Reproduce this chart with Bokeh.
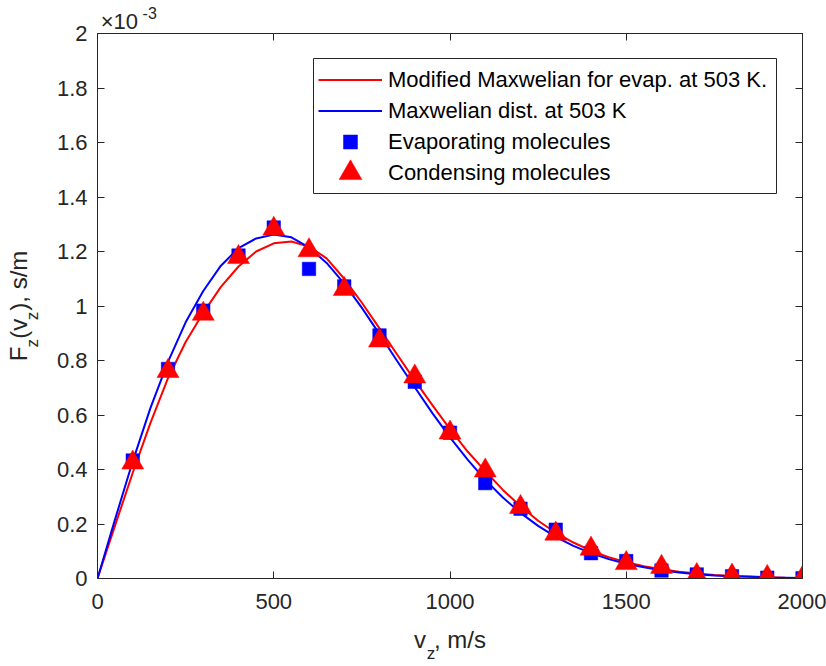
from bokeh.plotting import figure
from bokeh.models import Range1d, LinearAxis, FixedTicker, Legend, LegendItem, BoxAnnotation
from bokeh.embed import file_html
from bokeh.resources import INLINE

# ---------------- data ----------------
v_curve = [0, 50, 100, 150, 200, 250, 300, 350, 400, 450, 500, 550, 600, 650, 700,
           750, 800, 850, 900, 950, 1000, 1050, 1100, 1150, 1200, 1250, 1300, 1350,
           1400, 1450, 1500, 1550, 1600, 1650, 1700, 1750, 1800, 1850, 1900, 1950, 2000]

# Modified Maxwellian for evaporation at 503 K (x 10^-3 s/m)
f_modified = [0.000, 0.195, 0.388, 0.570, 0.735, 0.868, 0.975, 1.070, 1.145, 1.200,
              1.230, 1.237, 1.218, 1.175, 1.100, 1.012, 0.918, 0.822, 0.727, 0.636,
              0.548, 0.466, 0.394, 0.325, 0.265, 0.212, 0.168, 0.132, 0.102, 0.078,
              0.060, 0.045, 0.034, 0.025, 0.018, 0.013, 0.009, 0.007, 0.005, 0.003, 0.002]

# Maxwellian distribution at 503 K (x 10^-3 s/m)
f_maxwell = [0.000, 0.218, 0.430, 0.625, 0.795, 0.940, 1.055, 1.148, 1.212, 1.248,
             1.262, 1.252, 1.215, 1.158, 1.082, 0.993, 0.897, 0.798, 0.702, 0.607,
             0.518, 0.436, 0.362, 0.297, 0.241, 0.193, 0.153, 0.120, 0.093, 0.071,
             0.054, 0.041, 0.030, 0.022, 0.016, 0.011, 0.008, 0.006, 0.004, 0.003, 0.002]

v_mol = [100, 200, 300, 400, 500, 600, 700, 800, 900, 1000,
         1100, 1200, 1300, 1400, 1500, 1600, 1700, 1800, 1900, 2000]
f_evap = [0.433, 0.769, 0.983, 1.185, 1.288, 1.136, 1.072, 0.892, 0.722, 0.535,
          0.350, 0.256, 0.179, 0.093, 0.064, 0.029, 0.015, 0.008, 0.003, 0.001]
f_cond = [0.425, 0.761, 0.971, 1.179, 1.283, 1.204, 1.062, 0.873, 0.741, 0.535,
          0.396, 0.262, 0.164, 0.109, 0.056, 0.042, 0.012, 0.010, 0.005, 0.002]

x_ticks = [0, 500, 1000, 1500, 2000]
y_ticks = [0, 0.2, 0.4, 0.6, 0.8, 1, 1.2, 1.4, 1.6, 1.8, 2]
y_tick_labels = ["0", "0.2", "0.4", "0.6", "0.8", "1", "1.2", "1.4", "1.6", "1.8", "2"]

legend_labels = ["Modified Maxwelian for evap. at 503 K.", "Maxwelian dist. at 503 K",
                 "Evaporating molecules", "Condensing molecules"]

# exponent note "x10^-3" above the top-left corner (anchors in m/s along the top axis)
exp_base_text, exp_base_anchor = "\u00d710", 62
exp_power_text, exp_power_anchor = "-3", 148

# axis labels: main text with a gap where each subscript "z" goes,
# the subscripts are drawn as a second label lined up with the gaps
GAP = "\u2004"
NB = "\u00a0"
x_label_main = "v" + GAP + ", m/s"
x_label_sub = "z" + NB * 8
y_label_main = "F" + GAP + "(v" + GAP + "), s/m"
y_label_sub = "z" + NB * 4 + "z" + NB * 10

# ---------------- styling ----------------
AX = "#262626"
FONT = "Liberation Sans"
TICK_FS = "22px"
LABEL_FS = "24px"
SUB_FS = "17px"

p = figure(width=826, height=666, output_backend="svg", toolbar_location=None,
           x_range=Range1d(0, 2000), y_range=Range1d(0, 2),
           min_border_left=97, min_border_right=24, min_border_top=33, min_border_bottom=88)
p.outline_line_color = None
p.xgrid.visible = False
p.ygrid.visible = False
p.background_fill_color = "white"
p.border_fill_color = "white"


def style_axis(ax, standoff=10):
    ax.axis_line_color = AX
    ax.axis_line_width = 1
    ax.major_tick_line_color = AX
    ax.major_tick_in = 7
    ax.major_tick_out = 0
    ax.minor_tick_line_color = None
    ax.major_label_text_font = FONT
    ax.major_label_text_color = AX
    ax.major_label_text_font_size = TICK_FS
    ax.major_label_standoff = standoff


def hide_labels(ax):
    ax.major_label_text_color = None
    ax.major_label_text_font_size = "1px"
    ax.major_label_standoff = 0


def label_axis(ax, text, size, standoff):
    ax.axis_label = text
    ax.axis_label_text_font = FONT
    ax.axis_label_text_font_size = size
    ax.axis_label_text_font_style = "normal"
    ax.axis_label_text_color = AX
    ax.axis_label_standoff = standoff


def blank_axis(ticks):
    ax = LinearAxis(ticker=FixedTicker(ticks=ticks))
    ax.axis_line_color = None
    ax.major_tick_line_color = None
    ax.minor_tick_line_color = None
    ax.major_tick_in = 0
    ax.major_tick_out = 0
    hide_labels(ax)
    return ax


def note_axis(anchor, text, size, standoff):
    ax = blank_axis([anchor])
    ax.major_label_overrides = {anchor: text}
    ax.major_label_text_color = AX
    ax.major_label_text_font = FONT
    ax.major_label_text_font_size = size
    ax.major_label_standoff = standoff
    return ax


# main axes with tick labels
xa = p.xaxis[0]
xa.ticker = FixedTicker(ticks=x_ticks)
style_axis(xa, 15)
label_axis(xa, x_label_main, LABEL_FS, 14)

ya = p.yaxis[0]
ya.ticker = FixedTicker(ticks=y_ticks)
ya.major_label_overrides = dict(zip(y_ticks, y_tick_labels))
style_axis(ya, 10)
label_axis(ya, y_label_sub, SUB_FS, 12)

# outer helper axes carrying the second part of each label
xa2 = blank_axis([1000])
label_axis(xa2, x_label_sub, SUB_FS, -12)
p.add_layout(xa2, "below")

ya2 = blank_axis([1])
label_axis(ya2, y_label_main, LABEL_FS, -12)
p.add_layout(ya2, "left")

# box ticks on right and top
ra = LinearAxis(ticker=FixedTicker(ticks=y_ticks))
style_axis(ra)
hide_labels(ra)
p.add_layout(ra, "right")
ta = LinearAxis(ticker=FixedTicker(ticks=x_ticks))
style_axis(ta)
hide_labels(ta)
p.add_layout(ta, "above")

# exponent note: base then raised power
p.add_layout(note_axis(exp_base_anchor, exp_base_text, "22px", 0), "above")
p.add_layout(note_axis(exp_power_anchor, exp_power_text, "16px", -13), "above")

# ---------------- data renderers ----------------
r_red = p.line(v_curve, f_modified, line_color="#FF0000", line_width=2)
r_blue = p.line(v_curve, f_maxwell, line_color="#0000FF", line_width=2)
r_sq = p.scatter(v_mol, f_evap, marker="square", size=13.5,
                 fill_color="#0000FF", line_color="#0000FF", line_width=0.5)
r_tri = p.scatter(v_mol, f_cond, marker="triangle", size=22,
                  fill_color="#FF0000", line_color="#FF0000", line_width=0.5)

# ---------------- legend: one framed box, rows sized per marker ----------------
legend_box = BoxAnnotation(left=216, right=679, bottom=385, top=520,
                           left_units="screen", right_units="screen",
                           bottom_units="screen", top_units="screen",
                           fill_color="white", fill_alpha=1.0,
                           line_color=AX, line_width=1, line_alpha=1.0)
p.add_layout(legend_box)


def make_legend(items, glyph_h, loc):
    return Legend(items=items, location=loc, orientation="vertical",
                  glyph_width=64, glyph_height=glyph_h, label_height=glyph_h, spacing=0,
                  padding=0, margin=0, label_standoff=6,
                  label_text_font=FONT, label_text_font_size="22px",
                  label_text_color="#000000", border_line_color=None,
                  background_fill_alpha=0.0)


p.add_layout(make_legend([LegendItem(label=legend_labels[0], renderers=[r_red]),
                          LegendItem(label=legend_labels[1], renderers=[r_blue])],
                         31, (221, 452)))
p.add_layout(make_legend([LegendItem(label=legend_labels[2], renderers=[r_sq])],
                         35, (221, 419)))
p.add_layout(make_legend([LegendItem(label=legend_labels[3], renderers=[r_tri])],
                         57, (221, 377)))

open("out.html", "w").write(file_html(p, INLINE))
